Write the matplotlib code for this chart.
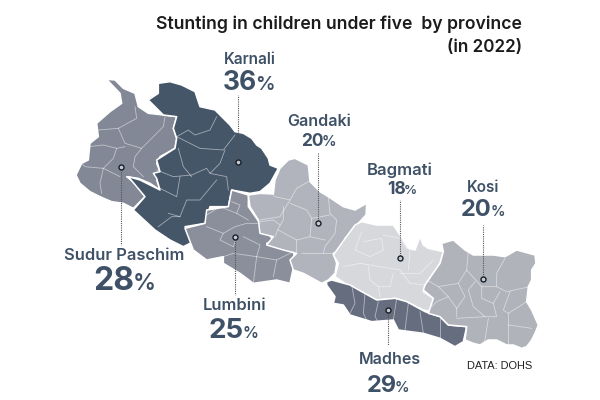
import matplotlib
matplotlib.use("Agg")
import matplotlib.pyplot as plt
from matplotlib.patches import Polygon

provinces = ["Karnali", "Gandaki", "Bagmati", "Kosi", "Sudur Paschim", "Lumbini", "Madhes"]
stunting = [36, 20, 18, 20, 28, 25, 29]

# province shapes traced from enlarged crops of the map, all at 3x
# west = crop from (60, 60), mid = crop from (240, 100), east = crop from (300, 170)
sudur_west = [(140,58),(165,60),(190,85),(225,100),(235,140),(265,160),(310,165),(350,170),(340,205),(350,235),(345,265),(300,290),(290,310),(300,335),(290,360),(300,390),(270,370),(235,355),(200,350),(225,370),(255,410),(220,445),(190,430),(155,425),(120,410),(90,395),(60,370),(48,345),(65,310),(85,300),(90,250),(115,230),(110,190),(150,155),(185,130),(180,100)]
karnali_west = [(295,70),(330,65),(365,75),(405,95),(420,140),(465,150),(490,175),(510,195),(525,215),(550,220),(575,235),(590,255),(605,265),(625,295),(630,315),(655,325),(630,370),(600,395),(570,400),(515,390),(505,440),(450,440),(435,490),(375,500),(400,545),(370,560),(330,540),(285,510),(220,450),(255,410),(205,350),(240,360),(270,375),(300,390),(290,355),(280,340),(300,335),(290,300),(345,265),(350,235),(340,205),(350,170),(310,165),(265,120),(295,100)]
lumbini_west = [(515,390),(565,405),(565,440),(600,490),(640,540),(620,550),(700,575),(705,600),(690,670),(650,660),(580,670),(540,640),(490,610),(490,590),(440,600),(400,570),(375,505),(435,490),(440,450),(505,440)]
gandaki_mid = [(25,285),(60,280),(100,282),(105,240),(120,205),(145,180),(165,175),(205,195),(210,245),(240,275),(265,290),(310,320),(345,330),(380,310),(378,345),(350,375),(315,415),(305,450),(280,460),(290,490),(285,520),(265,540),(245,550),(190,520),(160,510),(150,480),(170,460),(130,450),(80,435),(100,410),(60,400),(55,360),(30,320)]
bagmati_east = [(125,220),(165,165),(185,155),(230,165),(280,165),(300,195),(325,235),(345,240),(360,200),(370,225),(385,235),(430,245),(420,280),(375,345),(370,365),(400,385),(395,425),(370,420),(320,395),(285,385),(230,390),(185,365),(150,350),(105,320),(115,280),(100,255)]
madhes_east = [(80,335),(95,330),(150,345),(185,365),(230,390),(285,385),(320,395),(375,425),(420,440),(445,465),(500,470),(490,515),(465,530),(420,505),(370,490),(295,480),(280,450),(215,455),(150,435),(130,405),(100,400),(105,380),(80,345)]
kosi_east = [(425,220),(460,210),(495,240),(520,255),(580,255),(615,260),(650,240),(705,255),(708,280),(695,300),(695,330),(685,350),(680,395),(695,420),(715,465),(705,490),(695,510),(680,530),(665,535),(640,525),(620,525),(590,510),(565,510),(540,525),(520,520),(495,510),(500,470),(445,465),(420,440),(385,430),(400,385),(370,360),(375,345),(420,280),(430,245)]

# district lines inside each province
west_lines = [
    [(225,140),(230,175),(175,205),(115,210)], [(175,205),(195,250),(245,265)],
    [(315,170),(310,200),(270,240),(245,265),(225,290),(220,320),(250,350)],
    [(85,260),(130,255),(170,265),(195,260)], [(170,265),(160,295),(130,325),(75,320),(65,310)],
    [(130,325),(120,370),(125,400)], [(130,325),(180,350)],
    [(350,230),(385,210),(405,225),(450,210),(470,170)], [(350,230),(420,265),(490,270),(525,225)],
    [(495,270),(480,310),(450,340),(500,350),(505,390)], [(355,265),(370,320),(395,350)],
    [(290,330),(340,350),(395,345),(440,325),(450,340)], [(360,350),(350,410),(300,385)],
    [(470,360),(420,420),(380,420),(360,470),(325,460)], [(295,500),(335,470),(360,470)],
    [(515,425),(540,435),(530,460),(480,440),(440,465)], [(530,460),(565,480)],
    [(440,500),(490,520),(525,500),(560,490),(600,490)], [(490,520),(480,540),(520,560),(530,530)],
    [(550,530),(600,555),(590,590),(520,580),(490,590)], [(590,590),(580,670)],
    [(590,590),(650,600),(700,575)], [(650,600),(640,650)],
]
mid_lines = [
    [(205,245),(170,265),(150,300),(105,290),(95,280)], [(150,300),(120,350),(60,360)],
    [(150,310),(200,330),(215,355),(210,410),(170,420),(170,455)], [(130,320),(130,360),(115,385),(105,410)],
    [(60,365),(100,360),(120,375)], [(115,390),(170,420)],
    [(265,290),(270,340),(290,360),(285,400),(255,440),(250,460),(185,460)],
    [(215,355),(270,345)], [(210,410),(255,420)], [(250,460),(280,460)],
]
east_lines = [
    [(185,185),(165,240),(210,260),(250,240),(245,205),(190,215)], [(250,195),(300,205),(320,235)],
    [(130,290),(180,280),(240,290),(300,300),(330,340),(375,345)], [(330,240),(325,300)],
    [(205,290),(210,330),(235,350),(240,380)], [(280,310),(270,350),(235,350)], [(300,310),(360,310),(400,270)],
    [(155,345),(165,400),(150,430)], [(195,370),(190,430),(200,450)], [(235,395),(225,440),(235,455)],
    [(290,385),(280,450)], [(325,400),(315,480)], [(360,425),(370,490)], [(420,445),(420,505)],
    [(505,240),(500,300),(475,340),(415,350),(380,330)], [(415,350),(445,380),(410,395),(395,410)],
    [(615,265),(590,310),(590,350),(620,365),(690,350)], [(500,300),(545,350),(590,350)],
    [(475,340),(495,380),(470,415),(470,440)], [(445,380),(470,415)],
    [(545,350),(545,385),(580,400),(590,440),(555,440),(470,445)], [(525,335),(505,360),(520,410),(555,440)],
    [(600,365),(580,400)], [(630,365),(610,420),(625,430),(680,395)], [(625,430),(625,530)],
    [(565,445),(555,510),(545,525)], [(625,465),(695,475)],
]

# labels, same order as provinces
name_xy = [(249.5,59),(319.5,122),(400,170),(483.5,188),(124,256),(235,306),(389.5,360)]
name_size = [11,11.6,12,11,11.9,11.9,11.5]
value_split_x = [256.5,323.5,405.5,492,134.5,243.5,396.5]
value_base_y = [90.5,146,194,216.5,290.5,338,391.5]
value_size = [19,12.5,12.5,17,23,20,17]
pct_size = [14,10.5,9.5,10.5,16.5,11.5,10.5]
dot_xy = [(238,162),(318,223),(400,258),(483,279),(121,167),(235,237),(388,310)]
line_end_y = [95,152,200,225,245,295,345]

text_color = "#3f5166"


def west(pts):
    return [(60 + x / 3, 60 + y / 3) for x, y in pts]


def mid(pts):
    return [(240 + x / 3, 100 + y / 3) for x, y in pts]


def east(pts):
    return [(300 + x / 3, 170 + y / 3) for x, y in pts]


plt.rcParams["font.family"] = ["Inter", "DejaVu Sans"]

fig = plt.figure(figsize=(6, 4), dpi=100)
ax = fig.add_axes([0, 0, 1, 1])
ax.set_xlim(0, 600)
ax.set_ylim(400, 0)
ax.axis("off")

shapes = [
    (west(sudur_west), "#828895"),
    (west(karnali_west), "#465669"),
    (west(lumbini_west), "#8a8f9b"),
    (mid(gandaki_mid), "#b1b4bc"),
    (east(bagmati_east), "#d6d8dc"),
    (east(madhes_east), "#656d7f"),
    (east(kosi_east), "#b0b3ba"),
]
for pts, color in shapes:
    ax.add_patch(Polygon(pts, closed=True, facecolor=color, edgecolor="white", linewidth=1.1, joinstyle="round"))

for lines, conv in [(west_lines, west), (mid_lines, mid), (east_lines, east)]:
    for line in lines:
        xs, ys = zip(*conv(line))
        ax.plot(xs, ys, color="white", linewidth=0.6, alpha=0.5, solid_joinstyle="round")

for i, name in enumerate(provinces):
    dx, dy = dot_xy[i]
    ax.plot([dx, dx], [dy, line_end_y[i]], color="#555555", linewidth=0.8, linestyle=(0, (1, 1)))
    ax.plot(dx, dy, "o", markersize=3.6, markerfacecolor="#c8cad0", markeredgecolor="#15202b", markeredgewidth=1.0)

    nx, ny = name_xy[i]
    ax.text(nx, ny, name, color=text_color, fontsize=name_size[i], fontweight="semibold", ha="center", va="center")

    ax.text(value_split_x[i], value_base_y[i], str(stunting[i]), color=text_color, fontsize=value_size[i],
            fontweight="bold", ha="right", va="baseline")
    # the % sits tight against the digits
    ax.text(value_split_x[i] - 1.5, value_base_y[i], "%", color=text_color, fontsize=pct_size[i],
            fontweight="semibold", ha="left", va="baseline")

ax.text(522, 24, "Stunting in children under five  by province", color="#1c1c1c", fontsize=12.7, fontweight="semibold", ha="right", va="center")
ax.text(522, 48, "(in 2022)", color="#1c1c1c", fontsize=12.3, fontweight="semibold", ha="right", va="center")
ax.text(500, 366, "DATA: DOHS", color="#222222", fontsize=7.9, family="Liberation Sans", ha="center", va="center")

fig.savefig("out.png", dpi=100)
